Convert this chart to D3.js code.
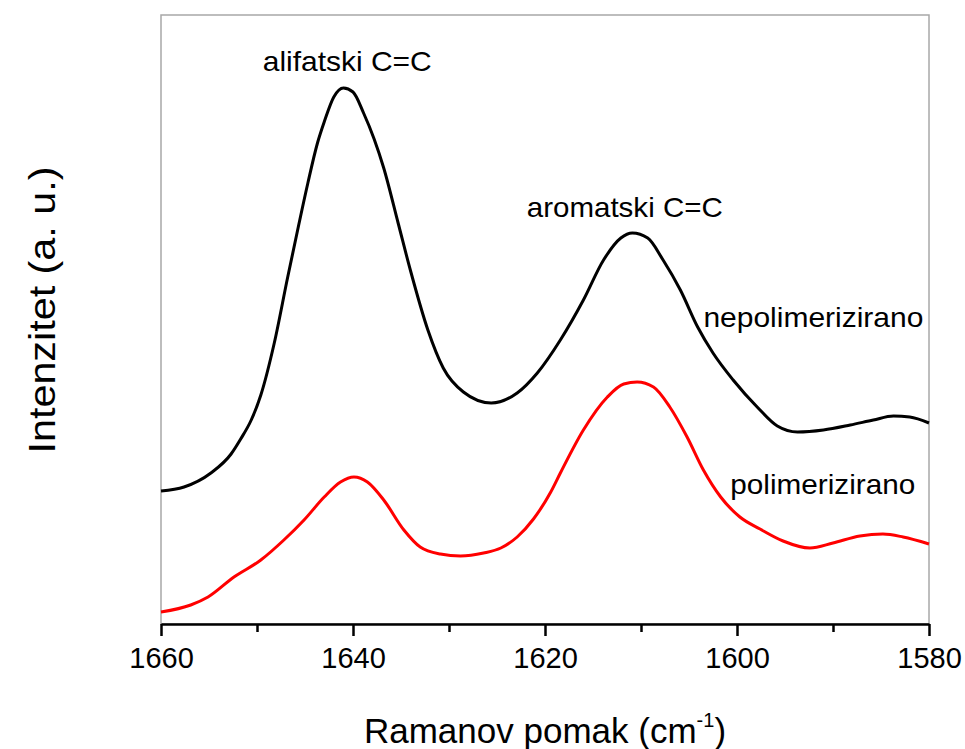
<!DOCTYPE html>
<html>
<head>
<meta charset="utf-8">
<script src="https://cdn.jsdelivr.net/npm/d3@7"></script>
<style>
  html, body { margin: 0; padding: 0; background: #fff; }
  svg { display: block; }
  text { font-family: "Liberation Sans", Arial, sans-serif; fill: #000; }
</style>
</head>
<body>
<svg id="chart" width="965" height="749"></svg>
<script>
// Raman shift (cm^-1) and intensity (a.u.) — unpolymerized (black)
const nepolX = [1660, 1657.6, 1654.8, 1652.7, 1651.7, 1650.6, 1649.6, 1648.2, 1646.8, 1645.7, 1644.7, 1643.7, 1643, 1642, 1641, 1640, 1638.9, 1637.8, 1636.8, 1635.3, 1634, 1632.2, 1630.6, 1628.5, 1625.6, 1622.9, 1620.8, 1618.4, 1616, 1613.9, 1612.1, 1610.9, 1609.3, 1607.7, 1605.9, 1604.1, 1602.5, 1600.4, 1597.9, 1595.8, 1593.7, 1591, 1588.2, 1585.8, 1583.7, 1582, 1580];
const nepolY = [134, 138, 152, 171, 186, 205, 230, 282, 348, 398, 442, 482, 503, 528, 537, 533, 512, 486, 457, 402, 354, 295, 257, 233, 222, 232, 252, 285, 325, 365, 387, 392, 387, 365, 335, 298, 272, 245, 218, 199, 193, 195, 200, 205, 209, 208, 202];
// polymerized (red)
const polX = [1660, 1656.9, 1655.1, 1652.4, 1649.6, 1647.2, 1645.1, 1643, 1641.3, 1639.9, 1638.5, 1636.8, 1634.7, 1633, 1630.9, 1628.8, 1626.4, 1624.6, 1622.9, 1621.2, 1619.4, 1618.4, 1616, 1613.5, 1611.8, 1610.4, 1608.7, 1607, 1605.2, 1603.5, 1601.7, 1599.7, 1597.6, 1595.2, 1592.4, 1590, 1587.2, 1584.8, 1582.7, 1580];
const polY = [13, 20, 28, 48, 65, 85, 105, 128, 143, 148, 143, 125, 95, 78, 71, 69, 72, 77, 88, 106, 133, 152, 195, 228, 241, 243, 238, 218, 188, 155, 128, 108, 96, 84, 77, 82, 89, 91, 88, 81];

const majorTicks = [1660, 1640, 1620, 1600, 1580];
const minorTicks = [1650, 1630, 1610, 1590];

const annotations = [
  { text: "alifatski C=C", x: 1649.4, y: 554, len: 169 },
  { text: "aromatski C=C", x: 1621.9, y: 408, len: 196 },
  { text: "nepolimerizirano", x: 1603.5, y: 298, len: 220 },
  { text: "polimerizirano", x: 1600.7, y: 131, len: 185 }
];

const svg = d3.select("#chart");
const pLeft = 161, pRight = 929, pTop = 15, pBottom = 624;

const x = d3.scaleLinear().domain([1660, 1580]).range([pLeft, pRight]);
const y = d3.scaleLinear().domain([0, 610]).range([625, 15]);

// frame
svg.append("rect")
  .attr("x", pLeft).attr("y", pTop)
  .attr("width", pRight - pLeft).attr("height", pBottom - pTop)
  .attr("fill", "none").attr("stroke", "#a8a8a8").attr("stroke-width", 1.5);

// lines
const line = d3.line().curve(d3.curveMonotoneX);
const nepPts = nepolX.map((v, i) => [x(v), y(nepolY[i])]);
const polPts = polX.map((v, i) => [x(v), y(polY[i])]);

svg.append("path").attr("d", line(nepPts))
  .attr("fill", "none").attr("stroke", "#000").attr("stroke-width", 3)
  .attr("stroke-linejoin", "round");
svg.append("path").attr("d", line(polPts))
  .attr("fill", "none").attr("stroke", "#ff0000").attr("stroke-width", 3)
  .attr("stroke-linejoin", "round");

// bottom axis
const gx = svg.append("g").attr("transform", `translate(0,${pBottom})`)
  .call(d3.axisBottom(x).tickValues(majorTicks).tickFormat(d3.format("d")).tickSize(12).tickSizeOuter(0));
gx.select(".domain").attr("stroke", "#000").attr("stroke-width", 2.5);
gx.selectAll(".tick line").attr("stroke", "#000").attr("stroke-width", 2.5);
gx.selectAll(".tick text")
  .attr("font-size", 29).attr("y", 44).attr("dy", 0)
  .style("font-family", '"Liberation Sans", Arial, sans-serif').attr("fill", "#000");

const gm = svg.append("g").attr("transform", `translate(0,${pBottom})`)
  .call(d3.axisBottom(x).tickValues(minorTicks).tickFormat("").tickSize(8).tickSizeOuter(0));
gm.select(".domain").remove();
gm.selectAll(".tick line").attr("stroke", "#000").attr("stroke-width", 2.5);

// axis titles
const xt = svg.append("text")
  .attr("x", (pLeft + pRight) / 2).attr("y", 743)
  .attr("text-anchor", "middle").attr("font-size", 35);
xt.append("tspan").text("Ramanov pomak (cm");
xt.append("tspan").text("-1").attr("font-size", 20).attr("dy", -16);
xt.append("tspan").text(")").attr("dy", 16);

svg.append("text")
  .attr("transform", "translate(55,310) rotate(-90)")
  .attr("text-anchor", "middle").attr("font-size", 36)
  .attr("textLength", 287).attr("lengthAdjust", "spacingAndGlyphs")
  .text("Intenzitet (a. u.)");

// annotations
svg.selectAll("text.ann").data(annotations).enter().append("text")
  .attr("class", "ann")
  .attr("x", d => x(d.x)).attr("y", d => y(d.y))
  .attr("font-size", 28)
  .attr("textLength", d => d.len).attr("lengthAdjust", "spacingAndGlyphs")
  .text(d => d.text);
</script>
</body>
</html>
